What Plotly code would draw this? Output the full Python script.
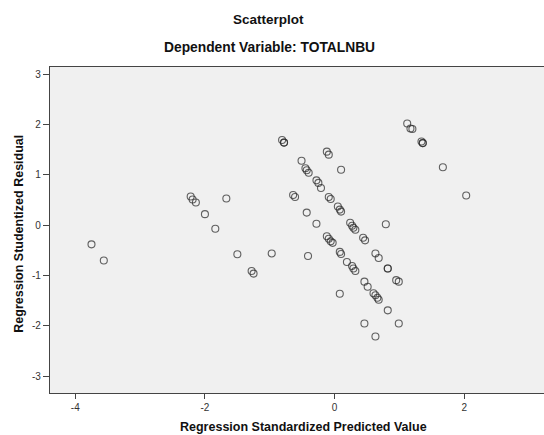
import plotly.graph_objects as go

# Regression Standardized Predicted Value (x) and Studentized Residual (y)
pred = [
    -3.75, -3.56,
    -2.22, -2.19, -2.14, -2.00, -1.84, -1.67, -1.50, -1.28, -1.25, -0.97, -0.41,
    -0.81, -0.78, -0.78,
    -0.12, -0.09,
    -0.51, -0.45, -0.43, -0.40,
    0.10,
    -0.28, -0.25, -0.21,
    -0.64, -0.61,
    -0.09, -0.06,
    -0.43,
    0.05, 0.08, 0.10,
    -0.28,
    0.24, 0.27, 0.29, 0.32,
    0.79,
    1.12, 1.17, 1.20,
    1.34, 1.36, 1.36,
    1.67, 2.03,
    0.44, 0.47,
    -0.12, -0.09, -0.06, -0.03,
    0.08, 0.10,
    0.19,
    0.27, 0.29, 0.32,
    0.63, 0.68,
    0.82, 0.82,
    0.95, 0.99,
    0.46, 0.51,
    0.60, 0.63, 0.66, 0.68,
    0.08,
    0.82,
    0.46, 0.99,
    0.63,
]
resid = [
    -0.38, -0.70,
    0.57, 0.51, 0.45, 0.22, -0.07, 0.53, -0.575, -0.91, -0.96, -0.56, -0.61,
    1.69, 1.64, 1.64,
    1.46, 1.40,
    1.28, 1.13, 1.09, 1.04,
    1.10,
    0.89, 0.84, 0.74,
    0.60, 0.56,
    0.56, 0.52,
    0.25,
    0.37, 0.31, 0.27,
    0.03,
    0.05, -0.01, -0.05, -0.09,
    0.02,
    2.02, 1.92, 1.91,
    1.66, 1.63, 1.63,
    1.15, 0.59,
    -0.25, -0.30,
    -0.22, -0.27, -0.32, -0.35,
    -0.53, -0.57,
    -0.73,
    -0.81, -0.86, -0.91,
    -0.56, -0.65,
    -0.86, -0.86,
    -1.09, -1.12,
    -1.12, -1.22,
    -1.35, -1.39, -1.44, -1.48,
    -1.36,
    -1.69,
    -1.95, -1.95,
    -2.21,
]

x_ticks = [-4, -2, 0, 2]
y_ticks = [-3, -2, -1, 0, 1, 2, 3]

FONT = "Liberation Sans, Arial, sans-serif"

fig = go.Figure(
    go.Scatter(
        x=pred, y=resid, mode="markers",
        marker=dict(symbol="circle-open", size=7,
                    color="rgba(40,40,40,0.72)", line=dict(width=1.1)),
        hoverinfo="x+y",
    )
)

H = 326.0  # plot height in px
def py(pix):
    return (393.3 - pix) / H

fig.update_layout(
    width=544, height=435,
    margin=dict(l=50, r=0, t=67, b=42, pad=0),
    paper_bgcolor="white",
    plot_bgcolor="#f0f0f0",
    showlegend=False,
    font=dict(family=FONT, color="#222", size=10),
    xaxis=dict(
        range=[-4.39, 3.23], tickvals=x_ticks, ticktext=[str(v) for v in x_ticks],
        showgrid=False, zeroline=False,
        showline=True, linecolor="#444", linewidth=1.2, mirror=True,
        ticks="outside", ticklen=5, tickcolor="#444", tickwidth=1,
        tickfont=dict(size=10, color="#333"),
    ),
    yaxis=dict(
        range=[-3.33, 3.14], tickvals=y_ticks, ticktext=[str(v) for v in y_ticks],
        showgrid=False, zeroline=False,
        showline=True, linecolor="#444", linewidth=1.2,
        ticks="outside", ticklen=6, tickcolor="#444", tickwidth=1,
        tickfont=dict(size=10, color="#333"),
    ),
    annotations=[
        dict(text="<b>Scatterplot</b>", xref="paper", yref="paper",
             x=(268 - 50) / 494, y=py(20), xanchor="center", yanchor="middle",
             showarrow=False, font=dict(size=13.5, color="#111", family=FONT)),
        dict(text="<b>Dependent Variable: TOTALNBU</b>", xref="paper", yref="paper",
             x=(269 - 50) / 494, y=py(47.5), xanchor="center", yanchor="middle",
             showarrow=False, font=dict(size=13.8, color="#111", family=FONT)),
        dict(text="<b>Regression Standardized Predicted Value</b>", xref="paper", yref="paper",
             x=(303 - 50) / 494, y=py(427), xanchor="center", yanchor="middle",
             showarrow=False, font=dict(size=12.5, color="#111", family=FONT)),
        dict(text="<b>Regression Studentized Residual</b>", xref="paper", yref="paper",
             x=(19 - 50) / 494, y=py(234), xanchor="center", yanchor="middle",
             textangle=-90, showarrow=False, font=dict(size=12.5, color="#111", family=FONT)),
    ],
)

fig.write_html("out.html", config={"displayModeBar": False})

# remove the default page margin so the figure sits at the window's top-left corner
with open("out.html", "r", encoding="utf-8") as f:
    html = f.read()
html = html.replace("<head>", "<head><style>html,body{margin:0;padding:0;overflow:hidden;}</style>", 1)
with open("out.html", "w", encoding="utf-8") as f:
    f.write(html)
